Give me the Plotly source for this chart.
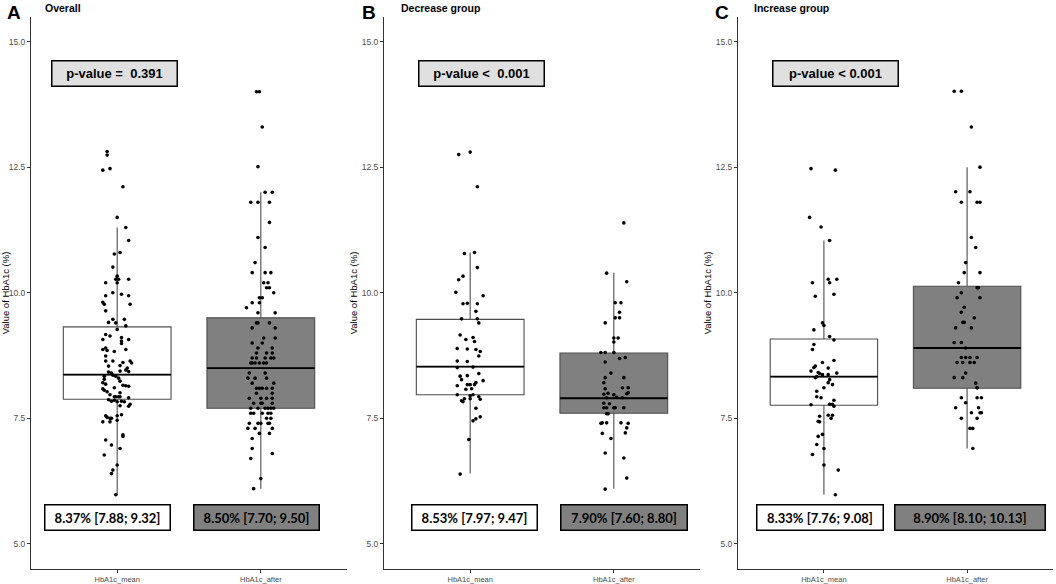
import plotly.graph_objects as go

# HbA1c before (mean) vs after, three groups, box + jittered points
PANELS = ["Overall", "Decrease group", "Increase group"]
LETTERS = ["A", "B", "C"]
GROUPS = ["HbA1c_mean", "HbA1c_after"]
P_TEXT = ["p-value =\u00a0 0.391", "p-value <\u00a0 0.001", "p-value < 0.001"]

# box statistics per panel: [mean, after]
Q1 = [[7.88, 7.70], [7.97, 7.60], [7.76, 8.10]]
MEDIAN = [[8.37, 8.50], [8.53, 7.90], [8.33, 8.90]]
Q3 = [[9.32, 9.50], [9.47, 8.80], [9.08, 10.13]]
LOWER = [[5.97, 6.10], [6.40, 6.10], [5.98, 6.90]]
UPPER = [[11.30, 12.00], [10.80, 10.40], [11.04, 12.50]]

# points: (value, jitter offset from the category)
a_mean_pts = [
    (12.81, -0.07), (12.74, -0.07), (12.44, -0.10), (12.47, -0.05), (12.11, 0.04), (11.50, 0.00),
    (11.30, 0.06), (11.04, 0.08), (10.77, -0.02), (10.80, 0.02), (10.51, -0.03), (10.33, 0.00),
    (10.27, -0.01), (10.27, 0.01), (10.27, 0.08), (10.20, -0.08), (10.20, 0.00), (10.00, -0.03),
    (9.97, 0.03), (9.94, -0.08), (9.94, 0.08), (9.81, -0.10), (9.77, -0.09), (9.77, 0.09),
    (9.64, -0.08), (9.41, -0.06), (9.47, -0.03), (9.40, -0.01), (9.47, 0.05), (9.34, 0.06),
    (9.27, 0.00), (9.17, -0.08), (9.14, -0.05), (9.11, 0.03), (9.07, -0.10), (9.04, 0.03),
    (9.07, 0.08), (8.99, 0.03), (8.87, -0.10), (8.90, -0.08), (8.85, -0.07), (8.83, -0.02),
    (8.87, 0.06), (8.74, -0.08), (8.64, -0.08), (8.64, -0.03), (8.61, 0.04), (8.64, 0.09),
    (8.60, 0.10), (8.54, -0.06), (8.55, 0.02), (8.50, 0.07), (8.46, 0.06), (8.42, -0.06),
    (8.40, -0.04), (8.44, 0.02), (8.43, 0.08), (8.34, -0.09), (8.36, -0.03), (8.34, -0.01),
    (8.30, 0.01), (8.28, -0.09), (8.24, 0.02), (8.21, -0.10), (8.18, -0.08), (8.16, 0.04),
    (8.15, 0.06), (8.14, 0.08), (8.11, -0.02), (8.09, -0.10), (8.06, -0.09), (8.03, -0.07),
    (7.97, -0.05), (8.01, 0.02), (7.93, -0.02), (7.93, -0.01), (7.93, 0.01), (7.93, 0.02),
    (7.91, 0.08), (7.87, -0.06), (7.84, -0.04), (7.86, -0.02), (7.83, 0.00), (7.84, 0.03),
    (7.83, 0.05), (7.78, 0.09), (7.74, 0.08), (7.75, 0.02), (7.57, 0.03), (7.55, -0.08),
    (7.52, -0.07), (7.50, -0.05), (7.50, -0.04), (7.55, 0.00), (7.43, -0.10), (7.43, -0.05),
    (7.46, 0.00), (7.17, 0.04), (7.14, 0.04), (7.07, -0.08), (6.97, -0.04), (6.90, 0.02),
    (6.77, -0.09), (6.57, 0.00), (6.47, -0.03), (6.40, -0.04), (5.98, -0.01),
]
a_after_pts = [
    (14.00, -0.03), (14.00, -0.01), (13.30, 0.01), (12.51, -0.02), (12.00, 0.03), (12.00, 0.08),
    (11.80, -0.07), (11.80, -0.02), (11.80, 0.06), (11.40, 0.06), (11.10, -0.02), (10.90, 0.03),
    (10.60, -0.04), (10.40, -0.06), (10.40, 0.03), (10.40, 0.07), (10.20, 0.02), (10.20, 0.05),
    (10.10, 0.04), (10.10, 0.06), (10.00, 0.09), (9.90, -0.01), (9.90, 0.01), (9.80, -0.06),
    (9.80, -0.01), (9.70, -0.10), (9.60, -0.02), (9.60, 0.10), (9.40, -0.03), (9.40, -0.02),
    (9.40, 0.06), (9.30, -0.06), (9.30, 0.10), (9.10, 0.02), (9.10, 0.10), (9.00, -0.06),
    (9.00, 0.01), (8.90, -0.02), (8.90, 0.08), (8.80, -0.03), (8.80, 0.04), (8.80, 0.08),
    (8.70, -0.06), (8.70, -0.03), (8.70, 0.03), (8.70, 0.07), (8.70, 0.09), (8.60, -0.07),
    (8.60, -0.06), (8.60, -0.04), (8.60, -0.01), (8.60, 0.02), (8.60, 0.04), (8.40, -0.08),
    (8.40, 0.03), (8.30, -0.09), (8.30, -0.04), (8.30, 0.04), (8.20, -0.06), (8.20, 0.09),
    (8.10, -0.03), (8.10, -0.01), (8.10, 0.01), (8.10, 0.04), (8.10, 0.08), (8.00, -0.03),
    (8.00, 0.08), (7.90, -0.08), (7.90, 0.00), (7.90, 0.04), (7.90, 0.08), (7.80, -0.05),
    (7.80, 0.00), (7.80, 0.01), (7.80, 0.08), (7.70, -0.07), (7.70, -0.02), (7.70, 0.03),
    (7.70, 0.05), (7.70, 0.07), (7.70, 0.09), (7.60, -0.07), (7.60, -0.05), (7.60, 0.01),
    (7.60, 0.05), (7.60, 0.07), (7.50, 0.04), (7.50, 0.07), (7.40, -0.08), (7.40, -0.02),
    (7.40, 0.00), (7.40, 0.05), (7.40, 0.06), (7.30, -0.09), (7.30, -0.04), (7.30, 0.08),
    (7.20, -0.01), (7.20, 0.06), (7.10, -0.06), (6.90, -0.06), (6.80, 0.08), (6.70, -0.07),
    (6.30, 0.00), (6.10, -0.05),
]
b_mean_pts = [
    (12.75, -0.08), (12.80, 0.00), (12.11, 0.05), (10.78, -0.04), (10.80, 0.03), (10.50, 0.05),
    (10.26, -0.08), (10.33, -0.05), (10.01, -0.10), (9.94, 0.09), (9.78, -0.05), (9.79, -0.02),
    (9.78, 0.05), (9.63, 0.04), (9.48, -0.06), (9.48, 0.05), (9.40, 0.06), (9.16, -0.07),
    (9.07, -0.03), (9.11, 0.02), (9.03, 0.03), (8.89, -0.09), (8.88, -0.02), (8.87, 0.04),
    (8.83, 0.07), (8.74, 0.06), (8.64, -0.09), (8.63, -0.02), (8.51, -0.09), (8.52, 0.02),
    (8.39, 0.06), (8.34, -0.07), (8.27, -0.06), (8.35, -0.02), (8.25, 0.09), (8.15, -0.09),
    (8.17, -0.02), (8.17, 0.00), (8.21, 0.04), (8.17, 0.03), (8.08, -0.03), (8.09, 0.01),
    (7.97, -0.09), (7.97, 0.02), (7.89, -0.04), (7.85, -0.06), (7.83, -0.05), (7.95, 0.00),
    (7.89, 0.00), (7.93, 0.06), (7.88, 0.07), (7.70, 0.04), (7.49, 0.04), (7.45, 0.02),
    (7.53, 0.07), (7.08, -0.01), (6.39, -0.07),
]
b_after_pts = [
    (11.39, 0.07), (10.39, -0.05), (10.22, 0.09), (9.80, 0.01), (9.80, 0.05), (9.61, 0.04),
    (9.50, 0.01), (9.50, 0.04), (9.40, -0.06), (9.10, 0.00), (9.10, 0.03), (9.02, 0.00),
    (8.81, -0.09), (8.81, -0.06), (8.81, 0.00), (8.69, 0.04), (8.71, 0.08), (8.62, -0.06),
    (8.40, -0.02), (8.31, -0.06), (8.21, -0.07), (8.31, 0.07), (8.11, 0.06), (8.11, 0.10),
    (8.09, -0.06), (7.99, 0.09), (8.01, 0.10), (7.98, -0.07), (8.00, -0.04), (7.97, 0.00),
    (7.91, -0.05), (7.92, 0.02), (7.91, 0.06), (7.80, -0.07), (7.79, -0.03), (7.71, -0.07),
    (7.71, -0.05), (7.71, 0.00), (7.71, 0.01), (7.71, 0.07), (7.59, -0.05), (7.59, -0.04),
    (7.40, -0.09), (7.41, -0.08), (7.41, -0.05), (7.41, 0.05), (7.40, 0.10), (7.31, 0.09),
    (7.20, -0.08), (7.21, 0.08), (7.10, -0.02), (6.81, -0.06), (6.71, 0.07), (6.31, 0.09),
    (6.09, -0.06),
]
c_mean_pts = [
    (12.47, -0.09), (12.44, 0.08), (11.50, -0.10), (11.31, -0.02), (11.04, 0.04), (10.20, -0.08),
    (10.27, 0.03), (10.27, 0.09), (10.20, 0.04), (9.93, -0.06), (9.97, 0.07), (9.40, -0.01),
    (9.35, 0.00), (9.26, -0.07), (9.13, 0.04), (9.06, 0.07), (8.97, -0.07), (8.87, -0.08),
    (8.61, -0.01), (8.65, 0.07), (8.54, -0.06), (8.51, -0.07), (8.44, -0.09), (8.50, 0.03),
    (8.41, -0.04), (8.39, -0.03), (8.37, -0.01), (8.37, 0.03), (8.40, 0.09), (8.31, -0.06),
    (8.33, -0.05), (8.27, 0.04), (8.21, 0.03), (8.17, 0.06), (8.11, 0.00), (8.04, -0.05),
    (7.93, -0.05), (7.91, -0.02), (7.86, 0.07), (7.77, -0.09), (7.78, 0.04), (7.78, 0.06),
    (7.74, 0.07), (7.56, 0.03), (7.56, 0.06), (7.50, 0.05), (7.54, -0.03), (7.44, -0.04),
    (7.43, -0.03), (7.18, -0.01), (7.14, -0.04), (6.98, -0.05), (6.90, 0.00), (6.78, -0.08),
    (6.57, 0.00), (6.47, 0.10), (5.98, 0.08),
]
c_after_pts = [
    (14.01, -0.09), (14.01, -0.04), (13.30, 0.03), (12.50, 0.09), (12.01, -0.08), (12.01, 0.02),
    (11.80, -0.04), (11.80, 0.07), (11.80, 0.09), (11.10, 0.03), (10.90, 0.06), (10.60, -0.01),
    (10.40, -0.02), (10.40, 0.09), (10.20, -0.06), (10.10, 0.07), (10.10, 0.08), (10.00, -0.04),
    (9.90, -0.07), (9.90, 0.09), (9.71, -0.02), (9.61, -0.04), (9.50, 0.05), (9.41, -0.03),
    (9.41, -0.02), (9.30, -0.08), (9.30, 0.03), (9.01, -0.09), (9.01, -0.04), (8.90, -0.01),
    (8.71, -0.04), (8.71, -0.01), (8.71, 0.02), (8.71, 0.07), (8.61, -0.07), (8.61, -0.03),
    (8.61, 0.02), (8.61, 0.05), (8.40, -0.01), (8.31, -0.09), (8.31, -0.03), (8.20, 0.06),
    (8.11, 0.07), (8.11, 0.07), (7.91, -0.04), (7.91, 0.07), (7.91, 0.10), (7.81, -0.01),
    (7.71, -0.08), (7.71, 0.08), (7.61, 0.03), (7.61, 0.09), (7.61, 0.10), (7.50, -0.04),
    (7.50, 0.07), (7.30, 0.02), (7.30, 0.04), (6.90, 0.04),
]
POINTS = [[a_mean_pts, a_after_pts], [b_mean_pts, b_after_pts], [c_mean_pts, c_after_pts]]

BOX_FILL = ["white", "#808080"]
BOX_W = 0.75
X_DOMAINS = [[31 / 1056, 347 / 1056], [384 / 1056, 700 / 1056], [738 / 1056, 1053 / 1056]]
Y_DOMAIN = [13 / 584, 567 / 584]
# label positions in data units (x), label box widths in px
P_X = [0.98, 1.08, 1.08]
LABEL_X = [[0.93, 1.97], [1.03, 2.07], [0.97, 2.02]]
LABEL_W = [[120, 120], [120, 121], [121, 145]]
TITLE_PX = [(5, 43), (360, 399), (713, 752)]

fig = go.Figure()
annotations = []

for p in range(3):
    xa = "x" if p == 0 else f"x{p + 1}"
    ya = "y" if p == 0 else f"y{p + 1}"
    for g in range(2):
        pos = g + 1
        fig.add_trace(go.Box(
            x=[pos], q1=[Q1[p][g]], median=[MEDIAN[p][g]], q3=[Q3[p][g]],
            lowerfence=[LOWER[p][g]], upperfence=[UPPER[p][g]],
            width=BOX_W, whiskerwidth=0, fillcolor=BOX_FILL[g],
            line=dict(color="#4d4d4d", width=1.1),
            xaxis=xa, yaxis=ya, showlegend=False, hoverinfo="skip"))
        # thicker median line like ggplot
        fig.add_trace(go.Scatter(
            x=[pos - BOX_W / 2, pos + BOX_W / 2], y=[MEDIAN[p][g]] * 2, mode="lines",
            line=dict(color="black", width=1.8), xaxis=xa, yaxis=ya,
            showlegend=False, hoverinfo="skip"))
        pts = POINTS[p][g]
        fig.add_trace(go.Scatter(
            x=[pos + d for _, d in pts], y=[v for v, _ in pts], mode="markers",
            marker=dict(color="black", size=3.6), xaxis=xa, yaxis=ya,
            showlegend=False, name=GROUPS[g]))

        label = f"<b>{MEDIAN[p][g]:.2f}% [{Q1[p][g]:.2f}; {Q3[p][g]:.2f}]</b>"
        annotations.append(dict(
            x=LABEL_X[p][g], y=5.535, xref=xa, yref=ya, text=label, showarrow=False,
            font=dict(family="Lato", size=13, color="black"),
            bgcolor=BOX_FILL[g], bordercolor="black", borderwidth=1.5, borderpad=2,
            width=LABEL_W[p][g], height=20))

    annotations.append(dict(
        x=P_X[p], y=14.36, xref=xa, yref=ya, text=f"<b>{P_TEXT[p]}</b>", showarrow=False,
        font=dict(family="Liberation Sans", size=13, color="black"),
        bgcolor="#e0e0e0", bordercolor="black", borderwidth=1.5, borderpad=2,
        width=120, height=20))

    lx, tx = TITLE_PX[p]
    annotations.append(dict(
        x=lx / 1056, y=1.0, xref="paper", yref="paper", xanchor="left", yanchor="top",
        text=f"<b>{LETTERS[p]}</b>", showarrow=False,
        font=dict(family="Liberation Sans", size=19, color="black")))
    annotations.append(dict(
        x=tx / 1056, y=1.0, xref="paper", yref="paper", xanchor="left", yanchor="top",
        text=f"<b>{PANELS[p]}</b>", showarrow=False,
        font=dict(family="Liberation Sans", size=10.5, color="black")))

axis_common = dict(showline=True, linecolor="#333333", linewidth=1, ticks="outside",
                   ticklen=3, tickcolor="#333333", showgrid=False, zeroline=False)
layout_axes = {}
for p in range(3):
    sfx = "" if p == 0 else str(p + 1)
    layout_axes[f"xaxis{sfx}"] = dict(
        axis_common, domain=X_DOMAINS[p], range=[0.4, 2.6], type="linear",
        tickvals=[1, 2], ticktext=GROUPS, anchor=f"y{sfx}",
        tickfont=dict(family="Liberation Sans", size=7.5, color="#4d4d4d"))
    layout_axes[f"yaxis{sfx}"] = dict(
        axis_common, domain=Y_DOMAIN, range=[4.5, 15.49], anchor=f"x{sfx}",
        tickvals=[5, 7.5, 10, 12.5, 15], tickformat=".1f",
        tickfont=dict(family="Liberation Sans", size=8.5, color="#4d4d4d"),
        title=dict(text="Value of HbA1c (%)", standoff=2,
                   font=dict(family="Liberation Sans", size=9.5, color="black")))

fig.update_layout(
    width=1056, height=584,
    margin=dict(l=0, r=0, t=0, b=0),
    paper_bgcolor="white", plot_bgcolor="white",
    boxmode="overlay",
    annotations=annotations,
    **layout_axes,
)

# the page's default body margin would push the figure 8px off the corner
fig.write_html("out.html", config={"displayModeBar": False},
               post_script="document.body.style.margin='0';")
